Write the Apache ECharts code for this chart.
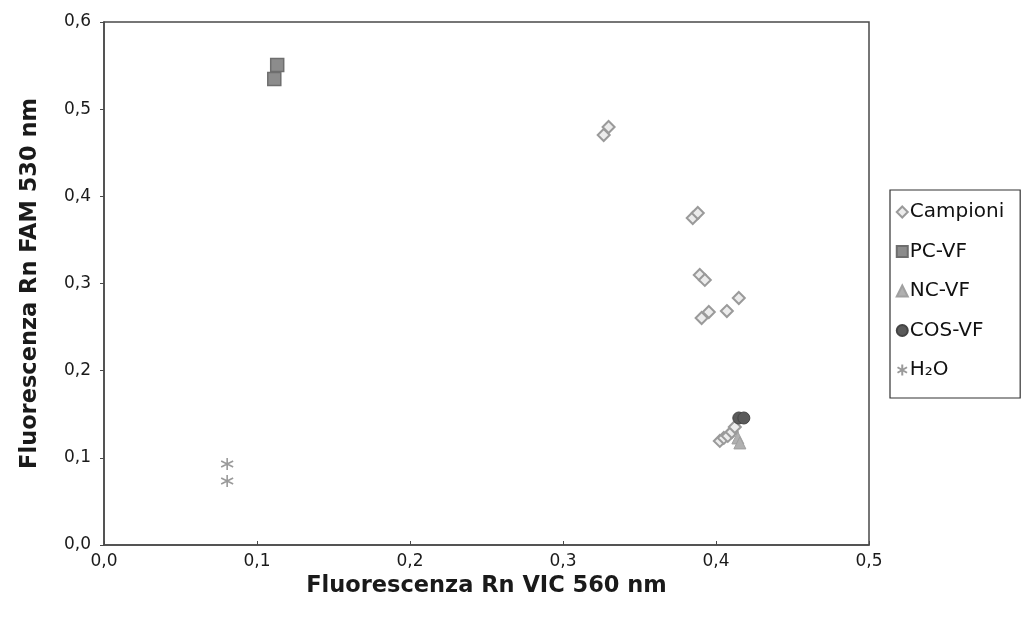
<!DOCTYPE html>
<html><head><meta charset="utf-8">
<script src="https://cdn.jsdelivr.net/npm/echarts@6/dist/echarts.min.js"></script>
<style>html,body{margin:0;padding:0;background:#fff}#c{width:1026px;height:621px}</style>
</head><body><div id="c"></div>
<script>
const seriesNames = ['Campioni', 'PC-VF', 'NC-VF', 'COS-VF', 'H\u2082O'];
const campioni = [
  [0.3266, 0.4704], [0.3298, 0.4795],
  [0.3848, 0.3751], [0.3881, 0.3809],
  [0.3894, 0.3098], [0.3927, 0.3041],
  [0.3906, 0.2604], [0.3953, 0.2673],
  [0.4071, 0.2684], [0.4149, 0.2834],
  [0.4025, 0.1194], [0.4051, 0.1228], [0.4077, 0.1251], [0.4103, 0.1296], [0.4123, 0.1354]
];
const pcVF = [[0.1132, 0.5507], [0.1113, 0.5347]];
const ncVF = [[0.4143, 0.1228], [0.4156, 0.1171]];
const cosVF = [[0.4149, 0.1457], [0.4182, 0.1457]];
const h2o = [[0.0805, 0.0930], [0.0805, 0.0734]];
const xTicks = {min: 0, max: 0.5, interval: 0.1};
const yTicks = {min: 0, max: 0.6, interval: 0.1};

const fmt = v => v.toFixed(1).replace('.', ',');
const asterisk = 'path://M0,-10L0,10M-8.66,-5L8.66,5M-8.66,5L8.66,-5';
const font = '"DejaVu Sans", sans-serif';

const chart = echarts.init(document.getElementById('c'));
chart.setOption({
  animation: false,
  backgroundColor: '#fff',
  grid: {left: 104, right: 157, top: 22, bottom: 76, show: true, borderColor: '#4a4a4a', borderWidth: 1.5},
  xAxis: {
    type: 'value', min: xTicks.min, max: xTicks.max, interval: xTicks.interval,
    name: 'Fluorescenza Rn VIC 560 nm', nameLocation: 'middle', nameGap: 24,
    nameTextStyle: {fontFamily: font, fontWeight: 'bold', fontSize: 22.5, color: '#1a1a1a'},
    axisLine: {show: true, lineStyle: {color: '#4a4a4a', width: 1.5}},
    axisTick: {show: true, inside: true, length: 4, lineStyle: {color: '#4a4a4a'}},
    axisLabel: {formatter: fmt, fontFamily: font, fontSize: 17, color: '#1a1a1a', margin: 8},
    splitLine: {show: false}
  },
  yAxis: {
    type: 'value', min: yTicks.min, max: yTicks.max, interval: yTicks.interval,
    name: 'Fluorescenza Rn FAM 530 nm', nameLocation: 'middle', nameGap: 62, nameRotate: 90,
    nameTextStyle: {fontFamily: font, fontWeight: 'bold', fontSize: 22.5, color: '#1a1a1a'},
    axisLine: {show: true, lineStyle: {color: '#4a4a4a', width: 1.5}},
    axisTick: {show: true, inside: false, length: 4, lineStyle: {color: '#4a4a4a'}},
    axisLabel: {formatter: fmt, fontFamily: font, fontSize: 17, color: '#1a1a1a', margin: 13},
    splitLine: {show: false}
  },
  legend: {
    orient: 'vertical', left: 890, top: 190,
    padding: [12, 16, 18, 5], itemGap: 19.5, itemWidth: 11, itemHeight: 11,
    borderColor: '#333', borderWidth: 1.2,
    textStyle: {fontFamily: font, fontSize: 20, color: '#111', padding: [0, 0, 0, -3]},
    data: seriesNames
  },
  series: [
    {name: seriesNames[0], type: 'scatter', data: campioni, symbol: 'diamond', symbolSize: 12,
     itemStyle: {color: '#ececec', borderColor: '#9a9a9a', borderWidth: 2, opacity: 1}},
    {name: seriesNames[1], type: 'scatter', data: pcVF, symbol: 'rect', symbolSize: 13,
     itemStyle: {color: '#8c8c8c', borderColor: '#6e6e6e', borderWidth: 1.5, opacity: 1}},
    {name: seriesNames[2], type: 'scatter', data: ncVF, symbol: 'triangle', symbolSize: 12,
     itemStyle: {color: '#b0b0b0', borderColor: '#a0a0a0', borderWidth: 1, opacity: 1}},
    {name: seriesNames[3], type: 'scatter', data: cosVF, symbol: 'circle', symbolSize: 12,
     itemStyle: {color: '#5a5a5a', borderColor: '#444', borderWidth: 1, opacity: 1}},
    {name: seriesNames[4], type: 'scatter', data: h2o, symbol: asterisk, symbolSize: 12,
     itemStyle: {color: 'none', borderColor: '#9a9a9a', borderWidth: 1.6, opacity: 1}}
  ]
});
</script></body></html>
